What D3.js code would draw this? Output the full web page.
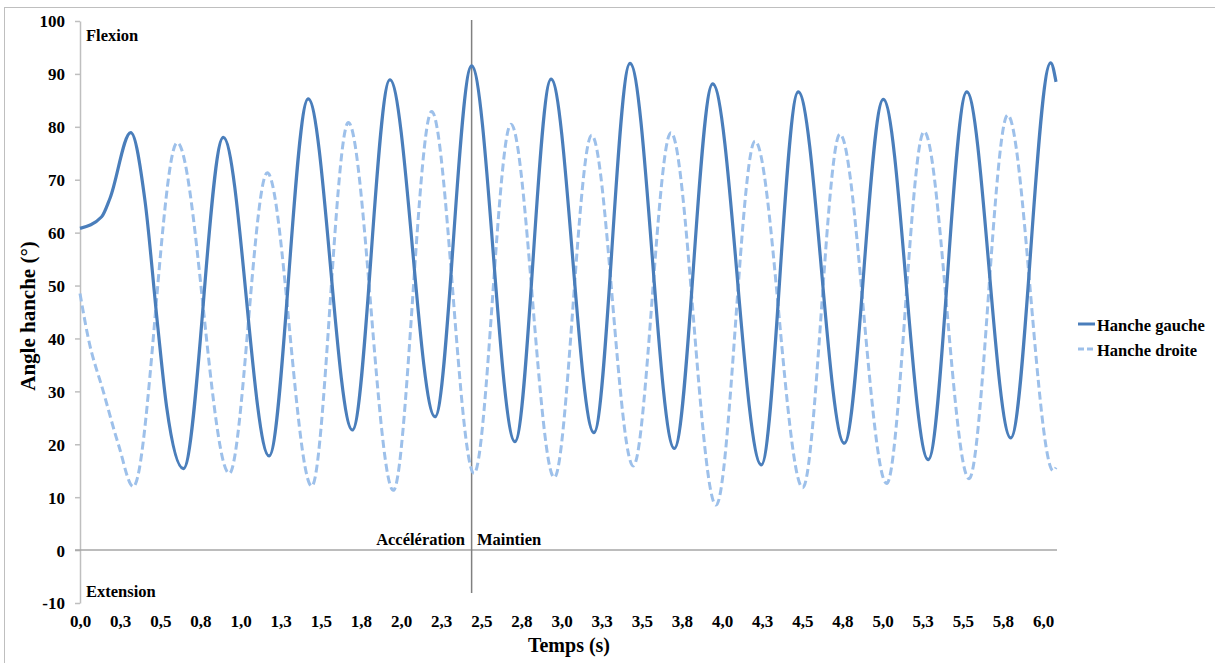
<!DOCTYPE html>
<html>
<head>
<meta charset="utf-8">
<script src="https://cdn.jsdelivr.net/npm/d3@7/dist/d3.min.js"></script>
<style>
  html, body { margin: 0; padding: 0; background: #fff; }
  svg text { font-family: "Liberation Serif", "Times New Roman", serif; font-weight: bold; fill: #000; }
</style>
</head>
<body>
<svg id="chart" width="1215" height="663"></svg>
<script>
// ---- Data ----
const gaucheT = [0.000, 0.135, 0.187, 0.316, 0.405, 0.482, 0.540, 0.644, 0.893, 1.178, 1.422, 1.697, 1.931, 2.212, 2.440, 2.710, 2.935, 3.202, 3.427, 3.703, 3.942, 4.245, 4.475, 4.762, 5.005, 5.285, 5.525, 5.799, 6.048, 6.081];
const gaucheV = [60.8, 63.0, 66.5, 78.9, 66.0, 43.0, 27.0, 15.4, 78.0, 17.8, 85.3, 22.7, 88.9, 25.2, 91.5, 20.5, 89.0, 22.2, 92.0, 19.2, 88.1, 16.1, 86.6, 20.2, 85.2, 17.1, 86.6, 21.2, 92.1, 88.5];

const droiteT = [0.000, 0.052, 0.145, 0.239, 0.332, 0.606, 0.930, 1.167, 1.444, 1.672, 1.952, 2.191, 2.455, 2.685, 2.955, 3.188, 3.447, 3.682, 3.963, 4.206, 4.503, 4.735, 5.026, 5.259, 5.539, 5.780, 6.064, 6.081];
const droiteV = [48.5, 40.0, 30.0, 20.0, 12.0, 77.0, 14.5, 71.3, 12.1, 80.8, 11.3, 82.9, 14.5, 80.5, 13.7, 78.4, 15.9, 78.9, 8.5, 77.3, 11.8, 78.6, 12.6, 79.1, 13.5, 82.2, 15.0, 15.6];

const xTickValues = d3.range(0, 25).map(k => k * 0.25);
const xTickLabels = ["0,0","0,3","0,5","0,8","1,0","1,3","1,5","1,8","2,0","2,3","2,5","2,8","3,0","3,3","3,5","3,8","4,0","4,3","4,5","4,8","5,0","5,3","5,5","5,8","6,0"];
const yTickValues = [-10, 0, 10, 20, 30, 40, 50, 60, 70, 80, 90, 100];
const yTickLabels = ["-10","0","10","20","30","40","50","60","70","80","90","100"];

const seriesNames = ["Hanche gauche", "Hanche droite"];
const phaseTime = 2.44;
const phaseLabels = ["Accélération", "Maintien"];
const zoneLabels = ["Flexion", "Extension"];
const xTitle = "Temps (s)";
const yTitle = "Angle hanche (°)";

// ---- Layout ----
const svg = d3.select("#chart");
const x = d3.scaleLinear().domain([0, 6]).range([80, 1043]);
const y = d3.scaleLinear().domain([-10, 100]).range([603, 21]);
const colGauche = "#4A7EBB";
const colDroite = "#9DC0EA";

// outer border
svg.append("rect").attr("x", 4.5).attr("y", 7.5).attr("width", 1215).attr("height", 660)
  .attr("fill", "none").attr("stroke", "#BFBFBF").attr("stroke-width", 1);

// Y axis
const yAxis = d3.axisLeft(y).tickValues(yTickValues)
  .tickFormat((d, i) => yTickLabels[i]).tickSize(5).tickSizeOuter(0).tickPadding(10);
const gy = svg.append("g").attr("transform", "translate(80,0)").call(yAxis);
gy.select(".domain").attr("stroke", "#BFBFBF").attr("stroke-width", 1.5);
gy.selectAll(".tick line").attr("stroke", "#BFBFBF").attr("stroke-width", 1.5);
gy.selectAll("text").style("font-size", "17px").attr("dy", "0.35em");

// zero line
const tEnd = gaucheT[gaucheT.length - 1];
svg.append("line").attr("x1", x(0) - 5).attr("x2", x(tEnd) + 1)
  .attr("y1", y(0)).attr("y2", y(0)).attr("stroke", "#A6A6A6").attr("stroke-width", 1.5);

// X axis labels (low position)
const xAxis = d3.axisBottom(x).tickValues(xTickValues)
  .tickFormat((d, i) => xTickLabels[i]).tickSize(0).tickPadding(12);
const gx = svg.append("g").attr("transform", `translate(0,${y(-10)})`).call(xAxis);
gx.select(".domain").remove();
gx.selectAll("text").style("font-size", "17px");

// phase separator
svg.append("line").attr("x1", x(phaseTime)).attr("x2", x(phaseTime))
  .attr("y1", 20).attr("y2", 593).attr("stroke", "#808080").attr("stroke-width", 1.5);

// Lines
const lineGen = d3.line().x(d => x(d[0])).y(d => y(d[1])).curve(d3.curveMonotoneX);
const gaucheData = gaucheT.map((t, i) => [t, gaucheV[i]]);
const droiteData = droiteT.map((t, i) => [t, droiteV[i]]);

svg.append("path").datum(droiteData).attr("d", lineGen)
  .attr("fill", "none").attr("stroke", colDroite).attr("stroke-width", 3)
  .attr("stroke-dasharray", "8,4");
svg.append("path").datum(gaucheData).attr("d", lineGen)
  .attr("fill", "none").attr("stroke", colGauche).attr("stroke-width", 3.2);

// Annotations
svg.append("text").attr("x", 86).attr("y", 41).style("font-size", "16.5px").text(zoneLabels[0]);
svg.append("text").attr("x", 86).attr("y", 597).style("font-size", "16.5px").text(zoneLabels[1]);
svg.append("text").attr("x", 465).attr("y", 545).attr("text-anchor", "end").style("font-size", "16.5px").text(phaseLabels[0]);
svg.append("text").attr("x", 477).attr("y", 545).style("font-size", "16.5px").text(phaseLabels[1]);

// Axis titles
svg.append("text").attr("x", 569).attr("y", 652).attr("text-anchor", "middle")
  .style("font-size", "20px").text(xTitle);
svg.append("text").attr("transform", "translate(35,316) rotate(-90)").attr("text-anchor", "middle")
  .style("font-size", "21px").text(yTitle);

// Legend
const legend = svg.append("g");
[0, 1].forEach(i => {
  const ly = 324 + i * 25;
  legend.append("line").attr("x1", 1078).attr("x2", 1095).attr("y1", ly).attr("y2", ly)
    .attr("stroke", i === 0 ? colGauche : colDroite).attr("stroke-width", 3)
    .attr("stroke-dasharray", i === 0 ? null : "6,3");
  legend.append("text").attr("x", 1097).attr("y", ly + 7).style("font-size", "16.5px").text(seriesNames[i]);
});
</script>
</body>
</html>
